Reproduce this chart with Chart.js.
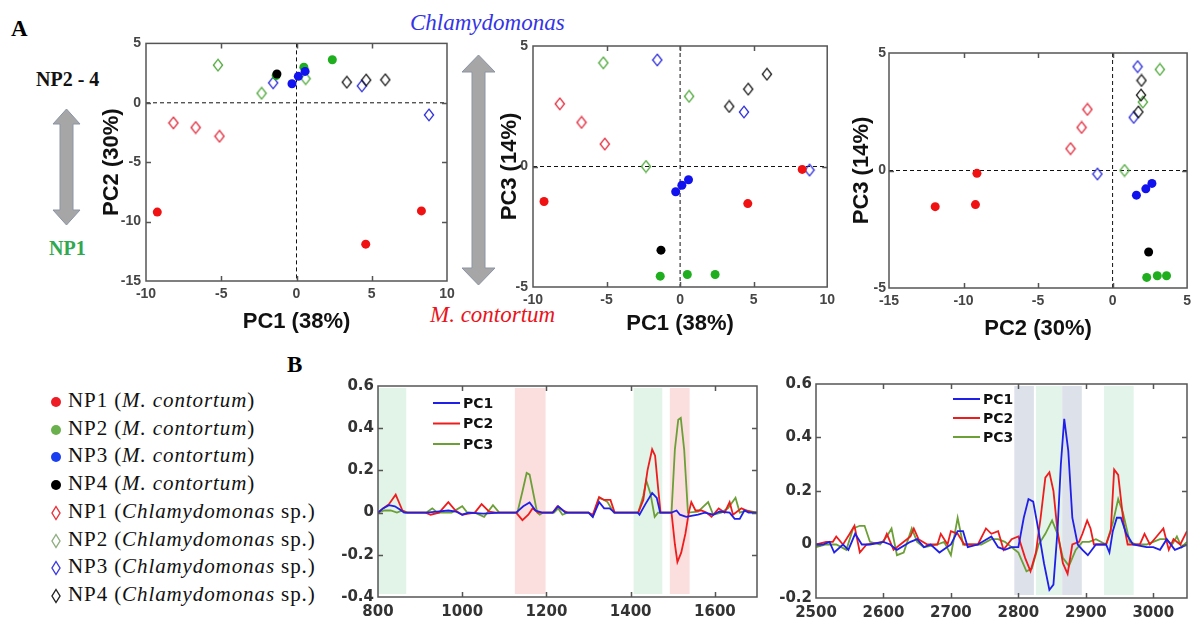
<!DOCTYPE html>
<html>
<head>
<meta charset="utf-8">
<script src="https://cdn.jsdelivr.net/npm/chart.js@4.4.1/dist/chart.umd.min.js"></script>
<style>
  html, body { margin: 0; padding: 0; background: #fff; }
  body { width: 1196px; height: 624px; position: relative; overflow: hidden; }
  canvas { position: absolute; }
  .lbl { position: absolute; font-family: "Liberation Serif", "Times New Roman", serif; white-space: nowrap; line-height: 1; }
  .panel { font-size: 23px; font-weight: bold; color: #000; }
  .np { font-size: 20px; font-weight: bold; }
  .sp { font-size: 23px; font-style: italic; }
  #legend .row { position: absolute; left: 50px; height: 24px; font-family: "Liberation Serif", "Times New Roman", serif; font-size: 21px; letter-spacing: 0.9px; line-height: 1; white-space: nowrap; color: #111; }
  #legend svg { position: absolute; left: 0; top: 5px; }
  #legend span { position: absolute; left: 18px; top: 0; }
  #arrows { position: absolute; left: 0; top: 0; pointer-events: none; }
</style>
</head>
<body>

<div class="lbl panel" style="left:11px;top:17px">A</div>
<div class="lbl panel" style="left:287px;top:353px">B</div>
<div class="lbl sp" style="left:410px;top:11px;color:#3434e6">Chlamydomonas</div>
<div class="lbl sp" style="left:430px;top:303px;color:#e8141c">M. contortum</div>
<div class="lbl np" style="left:36px;top:69px;color:#111">NP2 - 4</div>
<div class="lbl np" style="left:49px;top:238px;color:#2fa84f">NP1</div>

<svg id="arrows" width="1196" height="624">
  <polygon points="66.5,109 80,124 73,124 73,210 80,210 66.5,225 53,210 60,210 60,124 53,124"
           fill="#a6a6a6" stroke="#8a94a6" stroke-width="1"/>
  <polygon points="478.5,55 495,72 485,72 485,268 495,268 478.5,285 462,268 472,268 472,72 462,72"
           fill="#a6a6a6" stroke="#8a94a6" stroke-width="1"/>
</svg>

<canvas id="pc12" width="400" height="320" style="left:60px;top:30px"></canvas>
<canvas id="pc13" width="360" height="320" style="left:480px;top:30px"></canvas>
<canvas id="pc23" width="356" height="320" style="left:840px;top:30px"></canvas>
<canvas id="fp" width="450" height="254" style="left:320px;top:370px"></canvas>
<canvas id="ch" width="426" height="254" style="left:770px;top:370px"></canvas>

<div id="legend"></div>

<script>
'use strict';

//
// Data
//

// groups: 0-3 M. contortum (filled), 4-7 Chlamydomonas sp. (open diamonds)
var groupNP = ['NP1', 'NP2', 'NP3', 'NP4', 'NP1', 'NP2', 'NP3', 'NP4'];
var groupSpecies = ['M. contortum', 'M. contortum', 'M. contortum', 'M. contortum',
	'Chlamydomonas', 'Chlamydomonas', 'Chlamydomonas', 'Chlamydomonas'];

var sampleGroup = [0, 0, 0, 1, 1, 1, 2, 2, 2, 3, 4, 4, 4, 5, 5, 5, 6, 6, 6, 7, 7, 7];
var pc1Scores = [-9.25, 4.6, 8.3, -1.35, 0.49, 2.38, -0.3, 0.12, 0.57, -1.3, -8.18, -6.7, -5.12, -5.22, -2.32, 0.61, -1.55, 4.34, 8.8, 3.34, 4.63, 5.9];
var pc2Scores = [-9.2, -11.9, -9.1, 2.29, 3.0, 3.62, 1.6, 2.23, 2.64, 2.42, -1.69, -2.08, -2.82, 3.17, 0.8, 2.03, 1.68, 1.42, -1.02, 1.73, 1.91, 1.94];
var pc3Scores = [-1.45, -1.54, -0.12, -4.55, -4.48, -4.48, -1.05, -0.78, -0.55, -3.47, 2.6, 1.83, 0.93, 4.3, 0.0, 2.91, 4.42, 2.26, -0.15, 2.49, 3.21, 3.83];

// loadings, fingerprint region [wavenumber, loading]
var fpPC1 = [[800,0],[812,0.02],[826,0.035],[840,0.03],[852,0.015],[862,0],[915,0],[940,0.005],[967,0.01],[985,0.005],[1000,-0.01],[1015,0],[1050,-0.005],[1090,0],[1128,0],[1145,0.03],[1160,0.048],[1174,0.01],[1190,0],[1215,0],[1228,0.03],[1245,0],[1300,0],[1310,-0.02],[1325,0.05],[1337,0.02],[1350,0.02],[1362,0],[1417,0],[1421,-0.01],[1435,0.04],[1451,0.093],[1462,0.07],[1470,0],[1497,0],[1509,0.01],[1517,-0.01],[1532,-0.02],[1544,-0.015],[1560,-0.01],[1576,0],[1596,-0.01],[1611,0.005],[1635,0],[1647,-0.03],[1659,-0.03],[1670,0.01],[1680,0],[1700,0]];
var fpPC2 = [[800,0],[812,0.02],[826,0.04],[842,0.085],[858,0.01],[866,0],[913,0],[925,-0.01],[945,0],[967,0.05],[984,0.01],[1000,-0.01],[1015,-0.005],[1030,0],[1046,0.04],[1064,0.005],[1080,0],[1128,0],[1143,-0.036],[1157,-0.01],[1167,0.02],[1180,0],[1215,0],[1226,0.03],[1240,0.01],[1250,0],[1300,0],[1310,-0.01],[1325,0.074],[1337,0.06],[1345,0.06],[1352,0.06],[1362,0],[1418,0],[1430,0.06],[1440,0.2],[1451,0.3],[1458,0.27],[1465,0.12],[1471,0],[1497,0],[1505,-0.15],[1511,-0.234],[1520,-0.19],[1530,-0.1],[1538,0],[1544,0.05],[1554,0.01],[1568,0.01],[1580,0],[1592,-0.02],[1609,0.02],[1623,0],[1635,0.05],[1643,-0.01],[1663,0.02],[1675,0.01],[1690,0],[1700,0]];
var fpPC3 = [[800,0],[815,0.01],[830,0.01],[845,0],[858,0.01],[870,0],[915,0],[929,0.02],[941,0],[957,0],[975,0],[1000,0.03],[1012,0],[1030,0],[1052,-0.02],[1073,0.035],[1088,0],[1131,0],[1143,0.1],[1153,0.188],[1160,0.18],[1170,0.08],[1178,0],[1184,-0.01],[1192,0],[1218,0],[1228,0.02],[1238,-0.01],[1250,0],[1300,0],[1310,-0.02],[1325,0.07],[1337,0.06],[1345,0.05],[1360,0],[1418,0],[1430,0.08],[1437,0.153],[1447,0.09],[1457,-0.02],[1465,0],[1497,0],[1505,0.3],[1513,0.44],[1519,0.449],[1527,0.3],[1536,0],[1560,0.005],[1584,0.05],[1596,-0.01],[1615,0],[1631,0.02],[1649,0.07],[1659,0],[1675,0.01],[1700,0]];

// loadings, C-H region
var chPC1 = [[2500,0],[2510,0],[2520,0.01],[2527,-0.03],[2540,0],[2548,-0.02],[2558,0.04],[2568,0],[2580,0],[2600,0.01],[2610,0],[2620,-0.02],[2640,0.01],[2650,0.02],[2660,-0.01],[2670,0],[2683,-0.03],[2700,0],[2710,0.05],[2718,0.05],[2725,-0.01],[2740,0],[2760,0.03],[2770,-0.01],[2780,-0.02],[2790,-0.01],[2800,-0.01],[2808,0.1],[2815,0.17],[2822,0.16],[2830,0.05],[2838,-0.07],[2846,-0.17],[2852,-0.15],[2858,0.05],[2863,0.3],[2868,0.47],[2874,0.35],[2880,0.1],[2888,0],[2895,-0.02],[2903,-0.04],[2915,0],[2930,0],[2935,-0.03],[2940,0.05],[2946,0.1],[2952,0.1],[2960,0.04],[2970,0],[2990,-0.01],[3000,-0.01],[3010,-0.02],[3020,0.02],[3032,-0.02],[3042,-0.01],[3050,0]];
var chPC2 = [[2500,0],[2515,0.01],[2525,0.01],[2530,0.03],[2540,0],[2550,0.04],[2557,0.07],[2565,-0.03],[2575,0],[2600,0.01],[2605,0.04],[2615,-0.02],[2625,0],[2640,0.03],[2645,0.06],[2652,0.02],[2665,0],[2680,0],[2685,0.04],[2695,0],[2700,0.05],[2710,0.04],[2720,0],[2740,0],[2752,0.06],[2760,0.04],[2770,0.05],[2778,-0.02],[2790,0.02],[2800,0.03],[2810,-0.05],[2818,-0.1],[2826,-0.03],[2833,0.1],[2840,0.25],[2846,0.27],[2852,0.2],[2858,0.05],[2866,-0.07],[2873,-0.11],[2880,0],[2890,0.01],[2895,0.04],[2902,0.09],[2907,0.06],[2912,0],[2930,0],[2937,0.05],[2942,0.28],[2948,0.26],[2956,0.08],[2962,0],[2980,0],[2987,0.04],[2995,0],[3005,0.03],[3015,0.06],[3023,-0.02],[3030,0.02],[3040,0],[3050,0.05]];
var chPC3 = [[2500,-0.01],[2515,0],[2530,0],[2545,-0.02],[2555,0.06],[2565,0.07],[2572,0.07],[2580,0.01],[2595,0],[2605,0.03],[2612,0.06],[2620,-0.04],[2630,-0.03],[2642,0.06],[2650,0.01],[2660,-0.01],[2680,0],[2690,0.01],[2700,-0.04],[2710,0.1],[2718,0],[2730,0],[2745,0],[2760,0.02],[2770,0.02],[2780,0.01],[2790,-0.01],[2800,-0.03],[2812,-0.1],[2820,-0.09],[2830,0],[2840,0.04],[2850,0.09],[2858,0.04],[2866,-0.05],[2875,-0.08],[2885,-0.02],[2895,0.01],[2905,0.01],[2915,0.02],[2930,0],[2940,0.08],[2948,0.17],[2955,0.12],[2965,0.01],[2975,0],[2990,0],[3000,0.01],[3010,0.02],[3018,0.02],[3028,0],[3035,0.03],[3042,-0.01],[3050,0.01]];

// highlighted wavenumber ranges
var fpBands = [[800, 867], [1125, 1198], [1407, 1475], [1493, 1540]];
var chBands = [[2794, 2823], [2826, 2865], [2865, 2894], [2927, 2971]];

var pcLabels = ['PC1', 'PC2', 'PC3'];


//
// Styles
//

var groupColors = ['#f01212', '#1eae1e', '#1212ee', '#000000', '#e2283a', '#4ea83a', '#2d2ddc', '#1a1a1a'];
var legendColors = ['#ee1c24', '#6ab04c', '#1a3ff0', '#000000', '#e8333c', '#8fae80', '#3c3cdd', '#222222'];
var pcColors = ['#1f1fe8', '#ee1c1c', '#6c9f36'];
var fpBandColors = ['#e2f3e8', '#fbdfdf', '#e2f3e8', '#fbdfdf'];
var chBandColors = ['#dde1ea', '#e3f4ea', '#dde1ea', '#e3f4ea'];

var sansBold = '"Liberation Sans", Arial, sans-serif';
var dejaBold = '"DejaVu Sans", Verdana, sans-serif';


// Helpers

function makeDiamond(color) {
	var c = document.createElement('canvas');
	c.width = 12; c.height = 14;
	var g = c.getContext('2d');
	g.strokeStyle = color;
	g.lineWidth = 1.3;
	g.beginPath();
	g.moveTo(6, 1.2); g.lineTo(10.6, 7); g.lineTo(6, 12.8); g.lineTo(1.4, 7); g.closePath();
	g.stroke();
	return c;
}

// box, inward ticks, zero lines, bands and inline legend
var framePlugin = {
	id: 'frame',
	beforeDatasetsDraw: function(chart, args, opts) {
		var ctx = chart.ctx, a = chart.chartArea, x = chart.scales.x, y = chart.scales.y;
		ctx.save();
		if (opts.bands) {
			opts.bands.forEach(function(b, i) {
				var x0 = x.getPixelForValue(b[0]), x1 = x.getPixelForValue(b[1]);
				ctx.fillStyle = opts.bandColors[i];
				ctx.fillRect(x0, a.top + 2, x1 - x0, a.bottom - a.top - 5);
			});
		}
		if (opts.zeroLines) {
			ctx.strokeStyle = '#111';
			ctx.lineWidth = 1;
			ctx.setLineDash([4, 3]);
			var px = x.getPixelForValue(0), py = y.getPixelForValue(0);
			ctx.beginPath();
			ctx.moveTo(px, a.top); ctx.lineTo(px, a.bottom);
			ctx.moveTo(a.left, py); ctx.lineTo(a.right, py);
			ctx.stroke();
		}
		ctx.restore();
	},
	afterDatasetsDraw: function(chart, args, opts) {
		var ctx = chart.ctx, a = chart.chartArea, x = chart.scales.x, y = chart.scales.y;
		var tl = 5;
		ctx.save();
		ctx.strokeStyle = '#555';
		ctx.lineWidth = 1.5;
		ctx.beginPath();
		x.ticks.forEach(function(t) {
			var p = Math.round(x.getPixelForValue(t.value)) + 0.5;
			if (p < a.left + 2 || p > a.right - 2) return;
			ctx.moveTo(p, a.bottom); ctx.lineTo(p, a.bottom - tl);
			ctx.moveTo(p, a.top); ctx.lineTo(p, a.top + tl);
		});
		y.ticks.forEach(function(t) {
			var p = Math.round(y.getPixelForValue(t.value)) + 0.5;
			if (p < a.top + 2 || p > a.bottom - 2) return;
			ctx.moveTo(a.left, p); ctx.lineTo(a.left + tl, p);
			ctx.moveTo(a.right, p); ctx.lineTo(a.right - tl, p);
		});
		ctx.stroke();
		ctx.strokeRect(a.left, a.top, a.right - a.left, a.bottom - a.top);

		if (opts.legend) {
			var L = opts.legend;
			ctx.font = 'bold 14px ' + dejaBold;
			ctx.textBaseline = 'middle';
			ctx.textAlign = 'left';
			chart.data.datasets.forEach(function(ds, i) {
				var yy = a.top + L.top + i * L.gap;
				ctx.strokeStyle = ds.borderColor;
				ctx.lineWidth = 2;
				ctx.beginPath();
				ctx.moveTo(a.left + L.left, yy); ctx.lineTo(a.left + L.left + 27, yy);
				ctx.stroke();
				ctx.fillStyle = '#111';
				ctx.fillText(ds.label, a.left + L.left + 30, yy + 1);
			});
		}
		ctx.restore();
	}
};


//
// Score plots
//

function scoreChart(id, xs, ys, cfg) {
	var datasets = [];
	var orders = [3, 2, 1, 0, 7, 6, 5, 4];
	for (var g = 0; g < 8; g++) {
		var pts = [];
		sampleGroup.forEach(function(s, i) {
			if (s === g) pts.push({ x: xs[i], y: ys[i] });
		});
		var filled = g < 4;
		datasets.push({
			label: groupNP[g] + ' (' + groupSpecies[g] + ')',
			data: pts,
			order: orders[g],
			pointStyle: filled ? 'circle' : makeDiamond(groupColors[g]),
			pointRadius: filled ? 4.5 : 6,
			backgroundColor: groupColors[g],
			borderColor: groupColors[g],
			borderWidth: 0
		});
	}

	var tickFont = { family: sansBold, size: 14, weight: 'bold' };
	var titleFont = { family: sansBold, size: 22, weight: 'bold' };

	return new Chart(document.getElementById(id), {
		type: 'scatter',
		data: { datasets: datasets },
		options: {
			responsive: false,
			animation: false,
			layout: { padding: cfg.pad },
			plugins: {
				legend: { display: false },
				tooltip: { enabled: false },
				frame: { zeroLines: true }
			},
			scales: {
				x: {
					type: 'linear', min: cfg.xr[0], max: cfg.xr[1],
					grid: { display: false, drawTicks: false },
					border: { display: false },
					ticks: { stepSize: 5, padding: 5, font: tickFont, color: '#454545' },
					title: { display: true, text: cfg.xt, font: titleFont, color: '#111', padding: { top: 4, bottom: 4 } },
					afterFit: function(s) { s.height = cfg.xh; }
				},
				y: {
					type: 'linear', min: cfg.yr[0], max: cfg.yr[1],
					grid: { display: false, drawTicks: false },
					border: { display: false },
					ticks: { stepSize: 5, padding: cfg.yp, font: tickFont, color: '#454545' },
					title: { display: true, text: cfg.yt, font: titleFont, color: '#111', padding: { top: 4, bottom: 4 } },
					afterFit: function(s) { s.width = cfg.yw; }
				}
			}
		},
		plugins: [framePlugin]
	});
}

scoreChart('pc12', pc1Scores, pc2Scores, {
	xr: [-10, 10], yr: [-15, 5], xt: 'PC1 (38%)', yt: 'PC2 (30%)',
	pad: { left: 35, right: 13, top: 13, bottom: 11 }, xh: 58, yw: 51, yp: 5
});
scoreChart('pc13', pc1Scores, pc3Scores, {
	xr: [-10, 10], yr: [-5, 5], xt: 'PC1 (38%)', yt: 'PC3 (14%)',
	pad: { left: 13, right: 11, top: 16, bottom: 9 }, xh: 54, yw: 40, yp: 5
});
scoreChart('pc23', pc2Scores, pc3Scores, {
	xr: [-15, 5], yr: [-5, 5], xt: 'PC2 (30%)', yt: 'PC3 (14%)',
	pad: { left: 5, right: 7, top: 23, bottom: 4 }, xh: 58, yw: 44, yp: 3
});


//
// Loading plots
//

function loadingChart(id, series, cfg) {
	var tickFont = { family: dejaBold, size: 15, weight: 'bold' };
	return new Chart(document.getElementById(id), {
		type: 'line',
		data: {
			datasets: series.map(function(s, i) {
				return {
					label: pcLabels[i],
					data: s,
					borderColor: pcColors[i],
					borderWidth: 1.8,
					pointRadius: 0,
					tension: 0,
					fill: false
				};
			})
		},
		options: {
			responsive: false,
			animation: false,
			layout: { padding: cfg.pad },
			plugins: {
				legend: { display: false },
				tooltip: { enabled: false },
				frame: { bands: cfg.bands, bandColors: cfg.bandColors, legend: cfg.legend }
			},
			scales: {
				x: {
					type: 'linear', min: cfg.xr[0], max: cfg.xr[1],
					grid: { display: false, drawTicks: false },
					border: { display: false },
					ticks: {
						stepSize: cfg.xs, includeBounds: false, padding: 6, font: tickFont, color: '#333',
						callback: function(v) { return String(v); }
					},
					afterFit: function(s) { s.height = cfg.xh; }
				},
				y: {
					type: 'linear', min: cfg.yr[0], max: cfg.yr[1],
					grid: { display: false, drawTicks: false },
					border: { display: false },
					ticks: {
						stepSize: 0.2, padding: 4, font: tickFont, color: '#333',
						callback: function(v) { return String(Math.round(v * 10) / 10); }
					},
					afterFit: function(s) { s.width = cfg.yw; }
				}
			}
		},
		plugins: [framePlugin]
	});
}

loadingChart('fp', [fpPC1, fpPC2, fpPC3], {
	xr: [800, 1700], xs: 200, yr: [-0.4, 0.6],
	bands: fpBands, bandColors: fpBandColors,
	legend: { left: 55, top: 17, gap: 20.5 },
	pad: { left: 0, right: 13, top: 16, bottom: 0 }, xh: 27, yw: 58
});
loadingChart('ch', [chPC1, chPC2, chPC3], {
	xr: [2500, 3050], xs: 100, yr: [-0.2, 0.6],
	bands: chBands, bandColors: chBandColors,
	legend: { left: 137, top: 15, gap: 19 },
	pad: { left: 0, right: 9, top: 14, bottom: 0 }, xh: 26, yw: 46
});


//
// Group legend
//

var legendRowsY = [402, 429.7, 457.4, 485.1, 512.8, 540.5, 568.2, 595.9];
var legend = document.getElementById('legend');
groupNP.forEach(function(np, g) {
	var row = document.createElement('div');
	row.className = 'row';
	row.style.top = (legendRowsY[g] - 12) + 'px';
	var c = legendColors[g];
	var mark = g < 4
		? '<svg width="14" height="14"><circle cx="6" cy="7" r="5" fill="' + c + '"/></svg>'
		: '<svg width="14" height="16" style="top:4px"><polygon points="6,1.5 10,8 6,14.5 2,8" fill="none" stroke="' + c + '" stroke-width="1.4"/></svg>';
	var species = g < 4 ? '<i>' + groupSpecies[g] + '</i>' : '<i>' + groupSpecies[g] + '</i> sp.';
	row.innerHTML = mark + '<span>' + np + ' (' + species + ')</span>';
	legend.appendChild(row);
});
</script>
</body>
</html>
